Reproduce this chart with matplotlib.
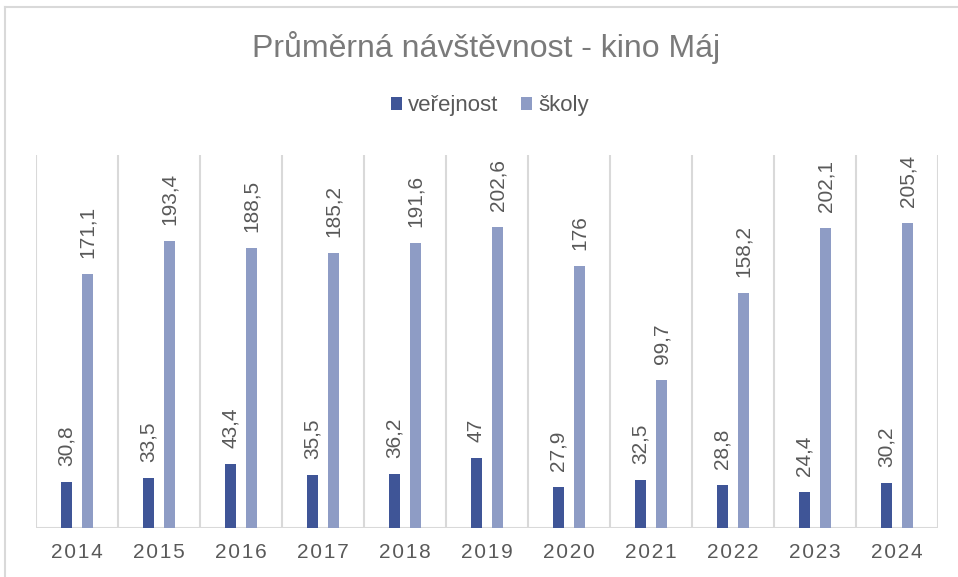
import matplotlib
matplotlib.use("Agg")
import matplotlib.pyplot as plt
import numpy as np
from matplotlib.lines import Line2D
from matplotlib.patches import Patch

years = ["2014", "2015", "2016", "2017", "2018", "2019", "2020", "2021", "2022", "2023", "2024"]
verejnost = [30.8, 33.5, 43.4, 35.5, 36.2, 47, 27.9, 32.5, 28.8, 24.4, 30.2]
skoly = [171.1, 193.4, 188.5, 185.2, 191.6, 202.6, 176, 99.7, 158.2, 202.1, 205.4]
series_names = ["veřejnost", "školy"]
title = "Průměrná návštěvnost - kino Máj"

c_dark = "#3F5597"
c_light = "#8E9CC5"
grid_c = "#D9D9D9"
text_c = "#595959"

plt.rcParams['font.family'] = ['Liberation Sans', 'DejaVu Sans']

W, H = 958, 577
fig = plt.figure(figsize=(W / 100, H / 100), dpi=100)
ax = fig.add_axes([36 / W, (H - 528) / H, (938 - 36) / W, (528 - 155) / H])

x = np.arange(len(years))
bw = 0.138
off = 0.13
b1 = ax.bar(x - off, verejnost, bw, color=c_dark, zorder=3)
b2 = ax.bar(x + off, skoly, bw, color=c_light, zorder=3)

def fmt(v):
    return ("%g" % v).replace(".", ",")

for bars, vals in ((b1, verejnost), (b2, skoly)):
    for rect, v in zip(bars, vals):
        ax.annotate(fmt(v), (rect.get_x() + rect.get_width() / 2, v),
                    xytext=(0, 11.5), textcoords="offset points",
                    rotation=90, ha="center", va="bottom",
                    fontsize=15, color=text_c)

ax.set_xlim(-0.5, len(years) - 0.5)
ax.set_ylim(0, 251)
for b in np.arange(-0.5, len(years), 1.0):
    ax.axvline(b, color=grid_c, lw=1.5, zorder=1)
ax.axhline(0, color=grid_c, lw=1.5, zorder=2)

for s in ax.spines.values():
    s.set_visible(False)
ax.set_yticks([])
ax.set_xticks(x)
spaced = ["\u200a".join(y) for y in years]
ax.set_xticklabels(spaced, fontsize=15, color=text_c)
ax.tick_params(axis="x", length=0, pad=11)

fig.text(486 / W, 1 - 47 / H, title, ha="center", va="center", fontsize=23, color="#7A7A7A")

handles = [Patch(facecolor=c_dark), Patch(facecolor=c_light)]
fig.legend(handles, series_names, loc="center", bbox_to_anchor=(490 / W, 1 - 106 / H),
           ncol=2, frameon=False, fontsize=16, labelcolor=text_c,
           handlelength=0.5, handleheight=0.5, handletextpad=0.3, columnspacing=1.0)

# outer chart border (top and left visible)
fig.add_artist(Line2D([4.5 / W, 4.5 / W], [0, 1 - 7 / H], transform=fig.transFigure, color=grid_c, lw=1.5))
fig.add_artist(Line2D([4.5 / W, 1], [1 - 7 / H, 1 - 7 / H], transform=fig.transFigure, color=grid_c, lw=1.5))

fig.savefig("out.png", dpi=100, facecolor="white")
